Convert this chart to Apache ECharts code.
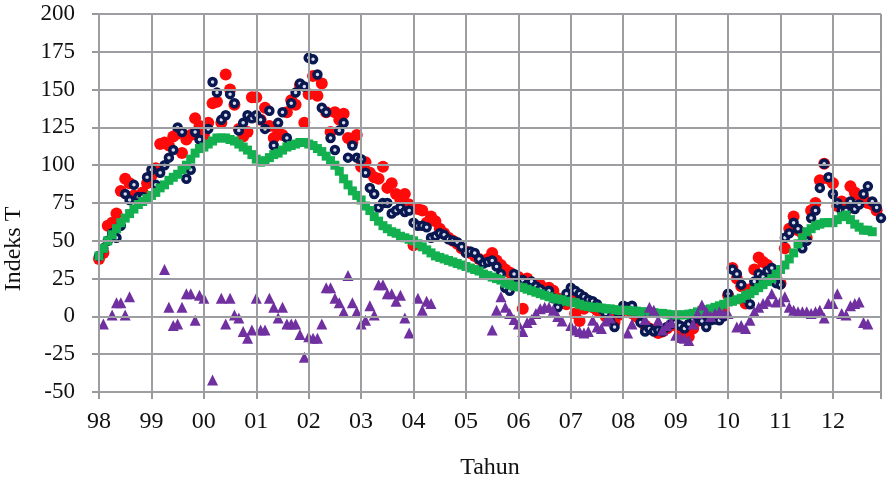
<!DOCTYPE html>
<html>
<head>
<meta charset="utf-8">
<script src="https://cdn.jsdelivr.net/npm/echarts@6/dist/echarts.min.js"></script>
<style>
html,body{margin:0;padding:0;background:#fff;}
#c{width:893px;height:498px;}
</style>
</head>
<body>
<div id="c"></div>
<script>
const startYear = 1998;
const endX = 1998 + 179 / 12;
const tickLabels = ['98','99','00','01','02','03','04','05','06','07','08','09','10','11','12'];
const yTicks = [-50, -25, 0, 25, 50, 75, 100, 125, 150, 175, 200];
const xTitle = 'Tahun';
const yTitle = 'Indeks T';

const redValues = [
 38, 42, 60, 62, 68, 83, 91, 88, 80, 78, 82, 88,
 93, 98, 114, 115, 113, 119, 121, 108, 117, 120, 131, 126,
 120, 128, 141, 142, 128, 160, 150, 140, 124, 119, 122, 145,
 145, 130, 138, 126, 118, 122, 120, 135, 143, 140, 153, 128,
 147, 159, 146, 154, 135, 122, 135, 130, 134, 118, 115, 120,
 99, 102, 95, 92, 91, 99, 85, 88, 81, 77, 81, 74,
 47, 71, 70, 62, 66, 63, 58, 55, 52, 50, 48, 45,
 43, 42, 40, 38, 36, 38, 42, 37, 34, 31, 29, 27,
 26, 5, 25, 22, 20, 21, 18, 19, 17, 12, 10, 8,
 12, 2, -3, 5, 8, 6, 4, 3, 0, -2, -4, 1,
 4, 5, 2, 0, -2.5, -6, -8, -9, -11, -10, -8, -6,
 -5, -10, -12, -13.5, -8, -3, -2, 0, 1, 2, 3, 5,
 14, 32, 25, 20, 8.5, 18, 31, 39, 36, 34, 30, 26,
 22, 45, 58, 66, 57, 55, 52, 70, 75, 90, 101, 91,
 88, 73, 76, 70, 86, 82, 80, 78, 75, 74, 70, null
];
const navyValues = [
 40, 45, 50, 55, 52, 60, 81, 77, 87, 79, 79, 92,
 97, 87, 95, 100, 105, 110, 125, 122, 91, 97, 122, 117,
 113, 124, 155, 148, 130, 133, 147, 141, 123, 128, 133, 131,
 133, 130, 124, 136, 113, 128, 135, 118, 141, 148, 154, 152,
 171, 170, 160, 138, 135, 118, 110, 123, 128, 105, 113, 105,
 104, 95, 85, 81, 72, 75, 75, 68, 70, 72, 69, 70,
 62, 60, 60, 59, 52, 53, 55, 54, 51, 50, 49, 46,
 42, 43, 42, 38, 35, 36, 37, 33, 28, 19, 17, 28,
 22, 24, 21, 23, 20, 18, 15, 17, 12, 6, 10, 15,
 19, 17, 15, 13, 11, 10, 8, 5, 2, -3, -7, 2,
 7, 6, 7, 3, -4, -10, -8, -10, -9, -10, -7, -5,
 -4, -6, -8, -5, -2, 0, -3, -7, -2.5, -2, -2.5, 0,
 15, 31, 28, 21, 12, 8, 23, 28, 26, 30, 32, 22,
 21, 52, 55, 62, 58, 45, 50, 65, 70, 85, 101, 92,
 81, 75, 70, 70, 76, 71, 74, 81, 86, 76, 72, 65
];
const greenValues = [
 40, 45, 50, 54, 58, 62, 65, 68, 71, 74, 76, 78,
 80, 82, 85, 87, 90, 92, 94, 97, 100, 104, 108, 111,
 112, 114, 116, 118, 118, 118, 117, 116, 114, 112, 110, 107,
 104, 102, 103, 105, 107, 108, 110, 112, 113, 114, 115, 115,
 114, 113, 111, 109, 106, 103, 100, 96, 91, 87, 83, 80,
 77, 73, 70, 66, 63, 60, 58, 56, 55, 53, 52, 51,
 50, 48, 46, 44, 42, 40, 39, 38, 37, 36, 35, 34,
 33, 32, 31, 30, 28, 27, 26, 25, 24, 22, 21, 20,
 19.5, 19, 18, 17, 16, 15, 14, 13, 12, 11.5, 11, 10,
 9.5, 9, 8, 7, 6.5, 6, 6, 5.5, 5, 5, 4.5, 4,
 4, 4, 3.5, 3.5, 3, 3, 3, 2.5, 2, 2, 1.5, 1,
 1, 1, 1, 1.5, 2, 3, 4, 4.5, 5, 6, 7, 8,
 9.5, 10, 11, 12, 14, 15, 17, 19, 21, 23, 25, 28,
 31, 34, 38, 42, 48, 52, 56, 58, 60, 61, 62, 62,
 62, 64, 66, 67, 64, 61, 59, 57, 57, 56, null, null
];
const purpleValues = [
 null, -5, null, 1, 9, 9, 1, 13, null, null, null, null,
 null, null, null, 31, 6, -6, -5, 6, 15, 15, -2.5, 14,
 12, null, -42, null, 12, -5, 12, 1, -1, -10, -14.5, -9,
 12, -9, -9, 12, 6, -1, 6, -5, -5, -5, -12, -27,
 -13.5, -14.5, -14.5, -5, 19, 19, 12, 9, 3, 27, 9, 3,
 -5, -2.5, 7, 1, 21, 21, 15, 15, 10, 14, -1, -11,
 null, 12, 4, 10, 8.5, null, null, null, null, null, null, null,
 null, null, null, null, null, null, -9, 4, 13, 6, 2, -2,
 -5, -10, -4, -2, 2, 5, 6, 6, 4, 0, -3, null,
 -6, -9, -10, -11, -10, -2.5, -7, -8, -3, -1, null, null,
 null, -11, -5, null, null, -2, 6, 4, -2.5, -9, -6, -4,
 -12.5, -14, -14.5, -16, -5, 2, 7.5, 3, 0, 2, 3, 2,
 2, null, -7, -6, -8, -2.5, 3, 6, 8.5, 10, 15, 9.5,
 10, 13, 6, 4, 3, 3, 3, 2, 3, 4, -1, 8.5,
 8.5, 15, 2, 1, 7, 8.5, 9.5, -4, -5, null, null, null
];

function toPoints(arr) {
  const out = [];
  arr.forEach((v, i) => { if (v !== null) out.push([startYear + i / 12, v]); });
  return out;
}

const FONT = 'Liberation Serif';
const GRID_C = '#999999';
const BACKUP_C = 'rgb(156,158,162)';
const gridX = tickLabels.map((_, k) => ({xAxis: startYear + k})).concat([{xAxis: endX}]);
const gridY = yTicks.map(v => ({yAxis: v}));

const chart = echarts.init(document.getElementById('c'));
chart.setOption({
  animation: false,
  grid: {left: 99, right: 12, top: 14, bottom: 106, outerBoundsMode: 'none'},
  graphic: [
    {type: 'text', left: 2, top: 'middle', rotation: Math.PI / 2,
     style: {text: yTitle, font: '24px "Liberation Serif"', fill: '#111'}}
  ],
  xAxis: {
    type: 'value', min: startYear, max: endX, interval: 1,
    name: xTitle, nameLocation: 'middle', nameGap: 64,
    nameTextStyle: {fontFamily: FONT, fontSize: 24, color: '#111'},
    axisLine: {show: true, onZero: false, lineStyle: {color: GRID_C, width: 2}},
    axisTick: {show: true, length: 7, lineStyle: {color: GRID_C, width: 2}},
    axisLabel: {
      margin: 18, fontFamily: FONT, fontSize: 24, color: '#111',
      formatter: function (v) { const k = Math.round(v - startYear); return (Math.abs(v - startYear - k) < 1e-6 && k >= 0 && k < tickLabels.length) ? tickLabels[k] : ''; }
    },
    splitLine: {show: true, lineStyle: {color: GRID_C, width: 2}}
  },
  yAxis: {
    type: 'value', min: yTicks[0], max: yTicks[yTicks.length - 1], interval: 25,
    axisLine: {show: true, lineStyle: {color: GRID_C, width: 2}},
    axisTick: {show: true, length: 7, lineStyle: {color: GRID_C, width: 2}},
    axisLabel: {margin: 24, fontFamily: FONT, fontSize: 23, color: '#111'},
    splitLine: {show: true, lineStyle: {color: GRID_C, width: 2}}
  },
  series: [
    {type: 'scatter', name: 'gridlines', data: [], z: 1, silent: true,
     markLine: {silent: true, symbol: ['none', 'none'], label: {show: false},
       lineStyle: {color: BACKUP_C, width: 2, type: 'solid', opacity: 1},
       emphasis: {disabled: true},
       data: gridX.concat(gridY)}},
    {type: 'scatter', name: 'red', data: toPoints(redValues), symbol: 'circle', symbolSize: 12, z: 2,
     itemStyle: {color: '#ff0a0a', opacity: 1}},
    {type: 'scatter', name: 'navy', data: toPoints(navyValues), symbol: 'circle', symbolSize: 7, z: 2,
     itemStyle: {color: '#d8dcea', borderColor: '#0a1852', borderWidth: 3.5, opacity: 1}},
    {type: 'scatter', name: 'green', data: toPoints(greenValues), symbol: 'rect', symbolSize: 9, z: 2,
     itemStyle: {color: '#13b04f', opacity: 1}},
    {type: 'scatter', name: 'purple', data: toPoints(purpleValues), symbol: 'triangle', symbolSize: 11, z: 2,
     itemStyle: {color: '#7030a0', opacity: 1}}
  ]
});
</script>
</body>
</html>
